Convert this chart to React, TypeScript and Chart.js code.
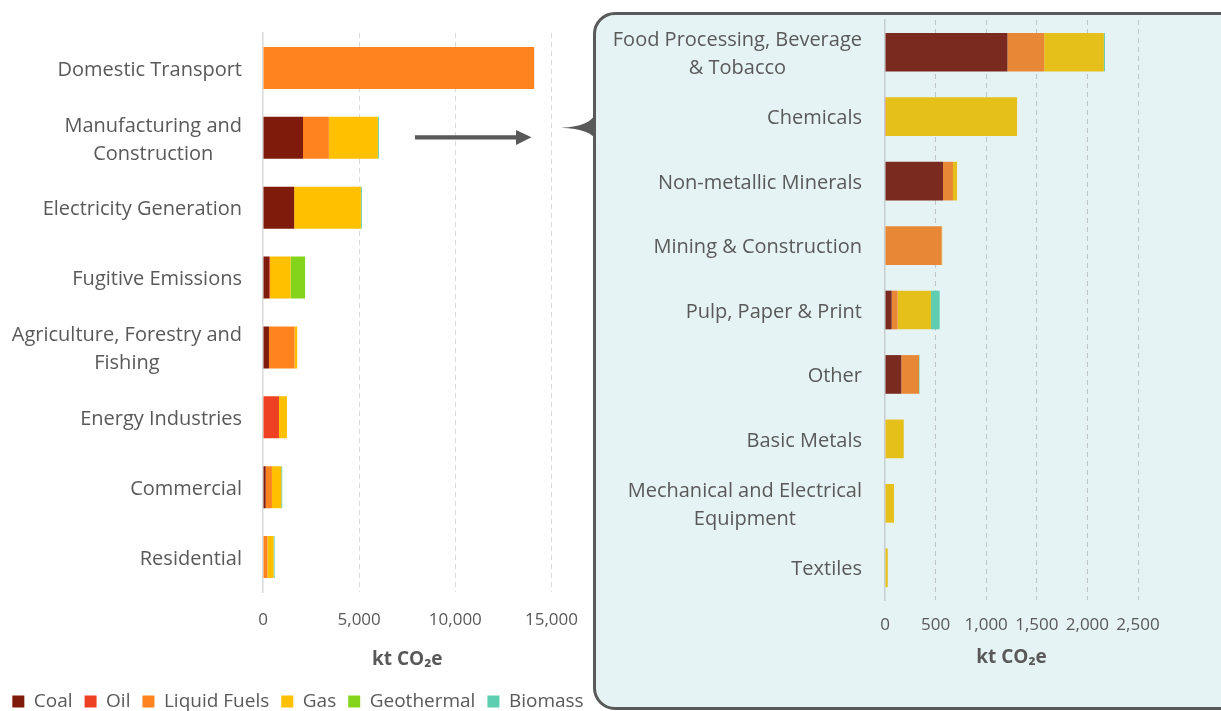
import React, { useEffect, useRef } from "react";
import { Chart, registerables } from "chart.js";

Chart.register(...registerables);

const FONT = "'Open Sans', sans-serif";
const TEXT = "#595959";

// ---- Left chart: emissions by sector (kt CO2e) ----
const sectors = [
  "Domestic Transport",
  ["Manufacturing and", "Construction"],
  "Electricity Generation",
  "Fugitive Emissions",
  ["Agriculture, Forestry and", "Fishing"],
  "Energy Industries",
  "Commercial",
  "Residential",
];
const coal = [0, 2080, 1620, 325, 310, 0, 140, 0];
const oil = [0, 0, 0, 40, 0, 830, 0, 0];
const liquidFuels = [14100, 1345, 0, 0, 1330, 0, 325, 230];
const gas = [0, 2550, 3470, 1070, 140, 415, 485, 325];
const geothermal = [0, 0, 0, 755, 0, 0, 0, 0];
const biomass = [0, 50, 50, 0, 0, 0, 50, 50];
const leftMax = 15000;
const leftStep = 5000;

// ---- Right chart: manufacturing and construction breakdown (kt CO2e) ----
const industries = [
  ["Food Processing, Beverage", "& Tobacco"],
  "Chemicals",
  "Non-metallic Minerals",
  "Mining & Construction",
  "Pulp, Paper & Print",
  "Other",
  "Basic Metals",
  ["Mechanical and Electrical", "Equipment"],
  "Textiles",
];
const indCoal = [1210, 0, 573, 0, 66, 161, 0, 0, 0];
const indLiquidFuels = [363, 10, 99, 560, 59, 175, 5, 0, 0];
const indGas = [590, 1295, 40, 5, 329, 0, 180, 89, 27];
const indBiomass = [10, 0, 0, 0, 86, 5, 0, 0, 0];
const rightMax = 2500;
const rightStep = 500;

const axisTitle = "kt CO\u2082e";

const sideLabels = {
  id: "sideLabels",
  afterDraw(chart: any, _args: any, opts: any) {
    const { ctx, chartArea } = chart;
    const scale = chart.scales.y;
    const labels = chart.data.labels as any[];
    ctx.save();
    ctx.font = `${opts.size}px ${FONT}`;
    ctx.fillStyle = opts.color;
    ctx.textAlign = "center";
    ctx.textBaseline = "middle";
    labels.forEach((lab, i) => {
      const lines: string[] = Array.isArray(lab) ? lab : [lab];
      const w = Math.max(...lines.map((l) => ctx.measureText(l).width));
      const cx = chartArea.left - opts.gap - w / 2;
      const cy = scale.getPixelForValue(i) + opts.shift;
      lines.forEach((l, j) =>
        ctx.fillText(l, cx, cy + (j - (lines.length - 1) / 2) * opts.lineHeight)
      );
    });
    ctx.restore();
  },
};

const fmt = (v: any) => Number(v).toLocaleString("en-US");

function makeOptions(p: {
  max: number;
  step: number;
  yWidth: number;
  rightSpace: number;
  xHeight: number;
  padTop: number;
  tickPad: number;
  titlePadBottom: number;
  gridColor: string;
  zeroColor: string;
  legend: boolean;
  labelGap: number;
}) {
  return {
    indexAxis: "y" as const,
    responsive: false,
    animation: false as const,
    layout: { padding: { top: p.padTop, right: 0, left: 0, bottom: 0 } },
    datasets: { bar: { barPercentage: 0.6, categoryPercentage: 1, borderWidth: 0 } },
    scales: {
      x: {
        stacked: true,
        min: 0,
        max: p.max,
        ticks: {
          stepSize: p.step,
          padding: p.tickPad,
          color: TEXT,
          font: { family: FONT, size: 17 },
          callback: (v: any) => fmt(v),
        },
        grid: {
          drawTicks: false,
          color: (c: any) => (c.tick && c.tick.value === 0 ? "rgba(0,0,0,0)" : p.gridColor),
          lineWidth: 1,
        },
        border: { display: false, dash: [5, 4] },
        title: {
          display: true,
          text: axisTitle,
          color: TEXT,
          font: { family: FONT, size: 19, weight: "bold" as const },
          padding: { top: 0, bottom: p.titlePadBottom },
        },
        afterFit: (s: any) => {
          s.height = p.xHeight;
        },
      },
      y: {
        stacked: true,
        ticks: { display: false },
        grid: { display: false },
        border: { display: true, color: p.zeroColor, width: 1.5 },
        afterFit: (s: any) => {
          s.width = p.yWidth;
        },
      },
      // empty right-hand gutter, keeps room for the last x tick label
      gutter: {
        type: "linear" as const,
        position: "right" as const,
        axis: "y" as const,
        display: true,
        ticks: { display: false },
        grid: { display: false },
        border: { display: false },
        afterFit: (s: any) => {
          s.width = p.rightSpace;
        },
      },
    },
    plugins: {
      tooltip: { enabled: false },
      legend: {
        display: p.legend,
        position: "bottom" as const,
        labels: {
          boxWidth: 12,
          boxHeight: 12,
          padding: 12,
          color: TEXT,
          font: { family: FONT, size: 19 },
        },
      },
      sideLabels: { size: 20, color: TEXT, gap: p.labelGap, lineHeight: 28, shift: 2 },
    },
  };
}

export default function App() {
  const leftRef = useRef<HTMLCanvasElement>(null);
  const rightRef = useRef<HTMLCanvasElement>(null);

  useEffect(() => {
    const leftOpts: any = makeOptions({
      max: leftMax,
      step: leftStep,
      yWidth: 263,
      rightSpace: 43,
      xHeight: 88,
      padTop: 33,
      tickPad: 18,
      titlePadBottom: 8.6,
      gridColor: "#D9D9D9",
      zeroColor: "#D9D9D9",
      legend: true,
      labelGap: 21,
    });
    const left = new Chart(leftRef.current!, {
      type: "bar",
      data: {
        labels: sectors as any,
        datasets: [
          { label: "Coal", data: coal, backgroundColor: "#7F1B0B" },
          { label: "Oil", data: oil, backgroundColor: "#EE4124" },
          { label: "Liquid Fuels", data: liquidFuels, backgroundColor: "#FF8420" },
          { label: "Gas", data: gas, backgroundColor: "#FFC000" },
          { label: "Geothermal", data: geothermal, backgroundColor: "#84D41C" },
          { label: "Biomass", data: biomass, backgroundColor: "#5DCFB0" },
        ],
      },
      options: leftOpts,
      plugins: [sideLabels],
    });

    const rightOpts: any = makeOptions({
      max: rightMax,
      step: rightStep,
      yWidth: 289,
      rightSpace: 83,
      xHeight: 106,
      padTop: 4,
      tickPad: 15,
      titlePadBottom: 37,
      gridColor: "#BFC5C7",
      zeroColor: "#C5CDCF",
      legend: false,
      labelGap: 23,
    });
    const right = new Chart(rightRef.current!, {
      type: "bar",
      data: {
        labels: industries as any,
        datasets: [
          { label: "Coal", data: indCoal, backgroundColor: "#7A2A1F" },
          { label: "Liquid Fuels", data: indLiquidFuels, backgroundColor: "#E88735" },
          { label: "Gas", data: indGas, backgroundColor: "#E6C01A" },
          { label: "Biomass", data: indBiomass, backgroundColor: "#5ECDB0" },
        ],
      },
      options: rightOpts,
      plugins: [sideLabels],
    });

    return () => {
      left.destroy();
      right.destroy();
    };
  }, []);

  return (
    <div
      style={{
        position: "fixed",
        left: 0,
        top: 0,
        width: 1221,
        height: 711,
        overflow: "hidden",
        background: "#ffffff",
      }}
    >
      <canvas
        ref={leftRef}
        width={596}
        height={721}
        style={{ position: "absolute", left: 0, top: 0, display: "block" }}
      />
      <div
        style={{
          position: "absolute",
          left: 593,
          top: 12,
          width: 660,
          height: 698,
          boxSizing: "border-box",
          border: "3.5px solid #595959",
          borderRadius: 22,
          background: "#E6F3F5",
        }}
      />
      <svg
        width={1221}
        height={711}
        style={{ position: "absolute", left: 0, top: 0 }}
      >
        <line x1={415} y1={137.3} x2={518} y2={137.3} stroke="#595959" strokeWidth={4.3} />
        <polygon points="516,130 531.5,137.3 516,145" fill="#595959" />
        <path d="M 596 112 Q 592 126.5 561 127.7 Q 592 129 596 141 Z" fill="#595959" />
      </svg>
      <canvas
        ref={rightRef}
        width={625}
        height={690}
        style={{ position: "absolute", left: 596, top: 16, display: "block" }}
      />
    </div>
  );
}
